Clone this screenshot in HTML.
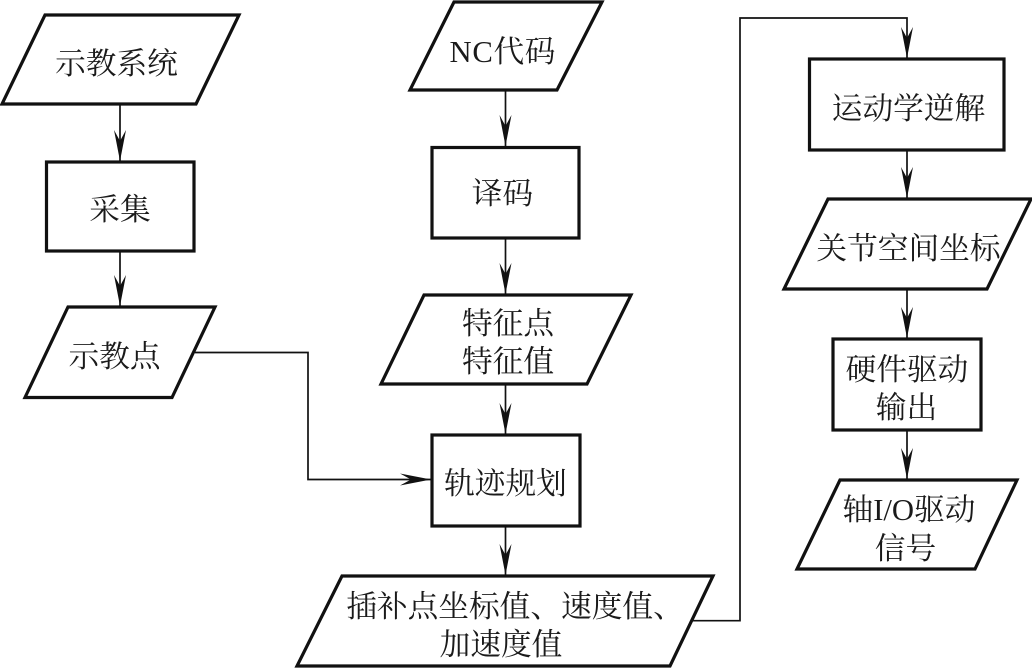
<!DOCTYPE html>
<html><head><meta charset="utf-8">
<style>html,body{margin:0;padding:0;background:#fff}svg{display:block}
text{font-family:"Liberation Serif","Noto Serif CJK SC",serif;font-size:30.7px;fill:#1a1a1a;text-anchor:middle}
.b{fill:#fff;stroke:#111;stroke-width:3.2;stroke-linejoin:miter}
.l{fill:none;stroke:#111;stroke-width:1.7}
.a{fill:#111;stroke:none}</style></head><body>
<svg width="1032" height="668" viewBox="0 0 1032 668" xmlns="http://www.w3.org/2000/svg">
<polygon class="b" points="45,15 239,15 196,104 2,104"/>
<text x="116.5" y="74">示教系统</text>
<path class="l" d="M120 104V162"/><path class="a" d="M120 161L114 130L120 141L126 130Z"/>
<rect class="b" x="46.500" y="162" width="147.500" height="89"/>
<text x="120" y="220">采集</text>
<path class="l" d="M120 251V307"/><path class="a" d="M120 306L114 275L120 286L126 275Z"/>
<polygon class="b" points="68,307 215,307 172,397.500 25,397.500"/>
<text x="114.500" y="367">示教点</text>
<path class="l" d="M195 352.500H308V479.500H431"/><path class="a" d="M431 479.500L400 473.500L411 479.500L400 485.500Z"/>

<polygon class="b" points="454,2 602,2 557,90 410,90"/>
<text x="502.500" y="62" textLength="106" lengthAdjust="spacing">NC代码</text>
<path class="l" d="M505.500 90V147"/><path class="a" d="M505.500 146L499.500 115L505.500 126L511.500 115Z"/>
<rect class="b" x="432" y="147.500" width="147" height="90.500"/>
<text x="502.500" y="204">译码</text>
<path class="l" d="M505.500 238V295"/><path class="a" d="M505.500 294L499.500 263L505.500 274L511.500 263Z"/>
<polygon class="b" points="424,295 631,295 587,384 381,384"/>
<text x="508" y="334">特征点</text>
<text x="508" y="372">特征值</text>
<path class="l" d="M505.500 384V435"/><path class="a" d="M505.500 434L499.500 403L505.500 414L511.500 403Z"/>
<rect class="b" x="432" y="435" width="148" height="91"/>
<text x="505.500" y="494">轨迹规划</text>
<path class="l" d="M505.500 526V576"/><path class="a" d="M505.500 575L499.500 544L505.500 555L511.500 544Z"/>
<polygon class="b" points="342,576 713,576 670,666 297,666"/>
<text x="515" y="617">插补点坐标值、速度值、</text>
<text x="501" y="655">加速度值</text>
<path class="l" d="M693 620.700H740V18H907V58"/><path class="a" d="M907 58L901 27L907 38L913 27Z"/>

<rect class="b" x="809.500" y="59" width="194.500" height="91"/>
<text x="908.500" y="119">运动学逆解</text>
<path class="l" d="M907 150V199"/><path class="a" d="M907 198L901 167L907 178L913 167Z"/>
<polygon class="b" points="828,199 1031,199 987,289 784,289"/>
<text x="908.500" y="259">关节空间坐标</text>
<path class="l" d="M907 289V339"/><path class="a" d="M907 338L901 307L907 318L913 307Z"/>
<rect class="b" x="833" y="339" width="148" height="91"/>
<text x="907" y="380">硬件驱动</text>
<text x="906.500" y="418">输出</text>
<path class="l" d="M907 430V480"/><path class="a" d="M907 479L901 448L907 459L913 448Z"/>
<polygon class="b" points="840,480 1017,480 975,569 797,569"/>
<text x="909" y="520">轴I/O驱动</text>
<text x="905.500" y="559">信号</text>
</svg></body></html>
